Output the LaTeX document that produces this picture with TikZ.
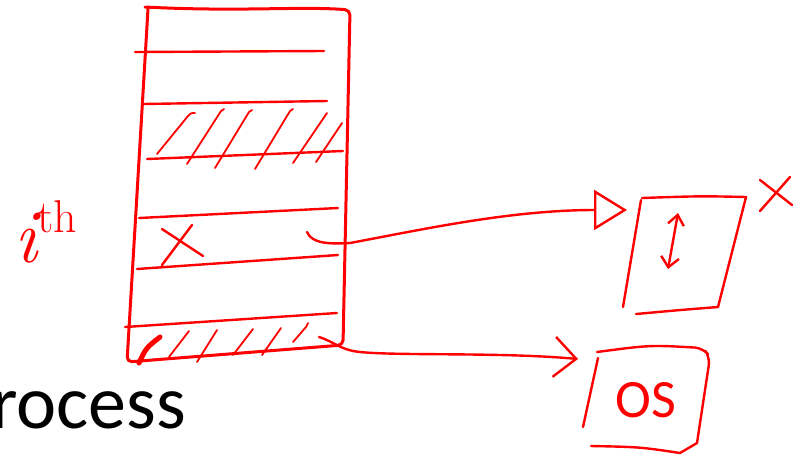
\documentclass[tikz,border=0pt]{standalone}
\usepackage{fontspec}
\usepackage{tikz}
\usetikzlibrary{arrows.meta,positioning,calc}
\newfontfamily\slidefont{Carlito}
\definecolor{inkred}{HTML}{FF0000}
\tikzstyle{pen} = [draw=inkred, line width=2.4pt, line cap=round, line join=round]
\tikzstyle{framepen} = [pen, line width=3pt, rounded corners=5pt]
\tikzstyle{hatch} = [pen, line width=1.8pt]
\tikzstyle{ink} = [text=inkred, inner sep=0pt]

\begin{document}
\begin{tikzpicture}[x=1pt, y=-1pt]
\useasboundingbox (0,0) rectangle (799,456);
\clip (0,0) rectangle (799,456);

% page table
\draw[framepen] (145,7) .. controls (240,12) and (300,6) .. (350,10)
    -- (343,345) -- (127,362) -- (148,9);
\coordinate (slot) at (307,232);
\coordinate (osrow) at (319,337);

% table rows
\draw[pen] (135,52) -- (324,51);
\draw[pen] (143,104) -- (327,101);
\draw[pen] (147,159) -- (343,151);
\draw[pen] (139,218) -- (338,208);
\draw[pen] (137,269) -- (338,255);
\draw[pen] (125,327) -- (337,313);

% used row
\draw[hatch] (157,154) -- (188,116) .. controls (191,113) .. (195,113);
\draw[hatch] (187,164) -- (221,111) -- (224,109);
\draw[hatch] (215,168) -- (249,112) -- (252,110);
\draw[hatch] (255,169) -- (290,111) -- (293,109);
\draw[hatch] (293,163) -- (327,113);
\draw[hatch] (316,162) -- (342,123);

% entry x
\draw[pen] (162,229) -- (203,256);
\draw[pen] (192,225) -- (162,265);

% bottom row (os)
\draw[pen, line width=5pt] (139,363) .. controls (146,348) .. (160,337);
\draw[hatch] (169,357) -- (189,331);
\draw[hatch] (197,362) -- (217,330);
\draw[hatch] (233,355) -- (253,329);
\draw[hatch] (262,355) -- (281,328);
\draw[hatch] (293,342) -- (306,327) -- (308,323);

% frame
\draw[pen] (642,198) .. controls (700,196) .. (746,197) -- (718,307);
\draw[pen] (641,200) -- (623,307);
\draw[pen] (636,314) .. controls (680,310) .. (718,307);
\coordinate (framein) at (627,210);
\draw[pen, {Straight Barb[length=10pt,width=16pt]}-{Straight Barb[length=10pt,width=18pt]}]
    (678,213) -- (668,269);
\draw[pen] (760,180) -- (792,205);
\draw[pen] (790,177) -- (760,211);

% os box
\draw[pen, rounded corners=8pt] (597,352) .. controls (650,345) .. (703,348)
    -- (710,357) -- (697,443);
\draw[pen] (598,358) -- (583,427);
\draw[pen] (591,446) .. controls (640,447) .. (680,453) -- (697,443);
\node[ink, font=\slidefont\fontsize{54}{58}\selectfont] (os) at (646,400) {OS};
\coordinate (osin) at (578,359);

% pointers
\draw[pen, -{Triangle[open, length=33pt, width=40pt]}] (slot)
    .. controls (312,244) and (330,244) .. (350,243)
    .. controls (420,230) and (510,210) .. (framein);
\draw[pen, -{Straight Barb[length=22pt, width=40pt]}] (osrow)
    .. controls (335,342) and (340,350) .. (360,352)
    .. controls (400,356) and (500,352) .. (osin);

% labels
\node[ink, anchor=base west, font=\fontsize{76}{80}\selectfont] (ith) at (14,262)
    {\itshape i\upshape\raisebox{30pt}{\fontsize{46}{48}\selectfont th}};
\node[inner sep=0pt, anchor=base east, font=\slidefont\fontsize{76}{80}\selectfont]
    (proc) at (186,428) {process};
\end{tikzpicture}
\end{document}
